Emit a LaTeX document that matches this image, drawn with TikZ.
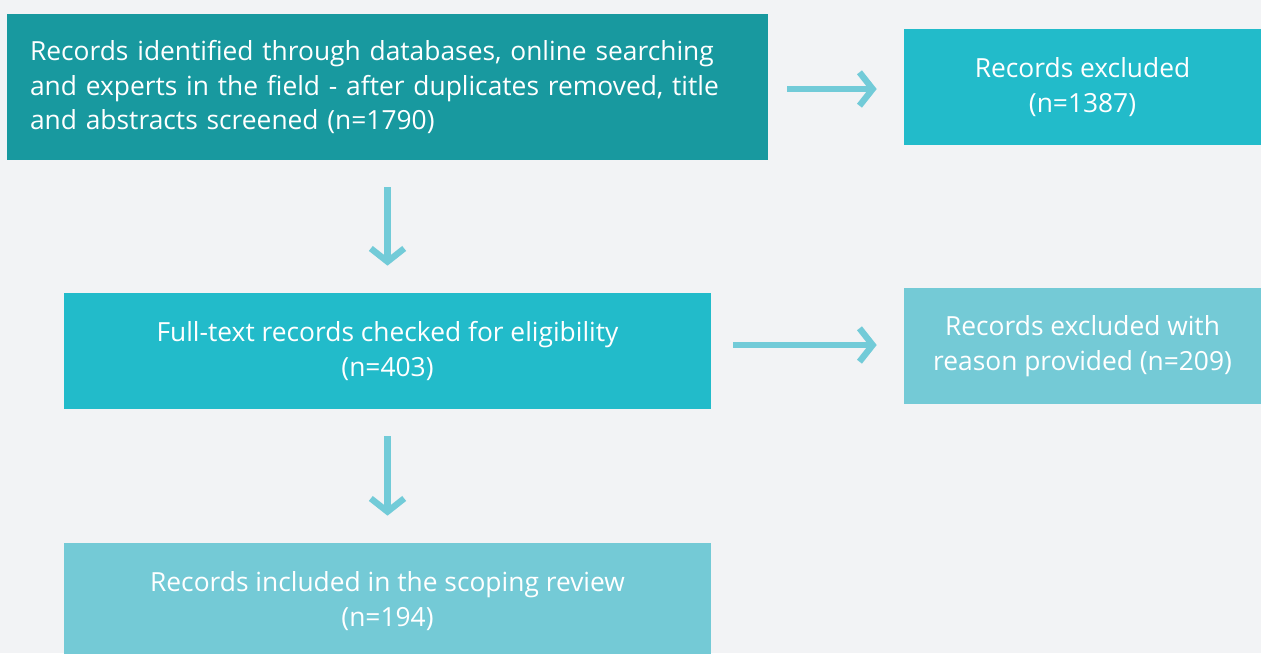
\documentclass[tikz,border=0pt]{standalone}
\usepackage{fontspec}
\setmainfont{Open Sans}
\usetikzlibrary{arrows.meta}

\definecolor{bgcol}{HTML}{F2F3F5}
\definecolor{darkteal}{HTML}{18999F}
\definecolor{midteal}{HTML}{22BBCA}
\definecolor{lightteal}{HTML}{74CAD6}
\definecolor{arrcol}{HTML}{72CBD8}

\tikzset{
    box/.style={fill=#1, text=white, inner sep=0pt, align=center,
        font=\fontsize{15}{19.6}\selectfont},
    flow/.style={arrcol, line width=3.6pt,
        -{Straight Barb[length=7.5pt, width=19pt, line width=3.6pt]}}
}

\begin{document}
\begin{tikzpicture}[x=0.02cm, y=-0.02cm]
    \fill[bgcol] (0,0) rectangle (1261,653);
    \useasboundingbox (0,0) rectangle (1261,653);
    \clip (0,0) rectangle (1261,653);

    \node[box=darkteal, minimum width=15.22cm, minimum height=2.92cm,
        text width=14.3cm, align=left] (ident) at (387.5,87)
        {Records identified through databases, online searching\\
         and experts in the field - after duplicates removed, title\\
         and abstracts screened (n=1790)};
    \node[box=midteal, minimum width=7.14cm, minimum height=2.32cm] (excl) at (1082.5,87)
        {Records excluded\\(n=1387)};
    \node[box=midteal, minimum width=12.94cm, minimum height=2.32cm] (full) at (387.5,351)
        {Full-text records checked for eligibility\\(n=403)};
    \node[box=lightteal, minimum width=7.14cm, minimum height=2.32cm] (reason) at (1082.5,346)
        {Records excluded with\\reason provided (n=209)};
    \node[box=lightteal, minimum width=12.94cm, minimum height=2.32cm] (incl) at (387.5,601)
        {Records included in the scoping review\\(n=194)};

    \draw[flow, shorten <=19*0.02cm, shorten >=27*0.02cm] ([yshift=-2*0.02cm]ident.east) -- ([yshift=-2*0.02cm]excl.west);
    \draw[flow, shorten <=22*0.02cm, shorten >=27*0.02cm] ([yshift=6*0.02cm]full.east) -- ([yshift=6*0.02cm]full.east -| reason.west);
    \draw[flow, shorten <=27*0.02cm, shorten >=27*0.02cm] (ident.south -| full.north) -- (full.north);
    \draw[flow, shorten <=27*0.02cm, shorten >=27*0.02cm] (full.south) -- (incl.north);
\end{tikzpicture}
\end{document}
